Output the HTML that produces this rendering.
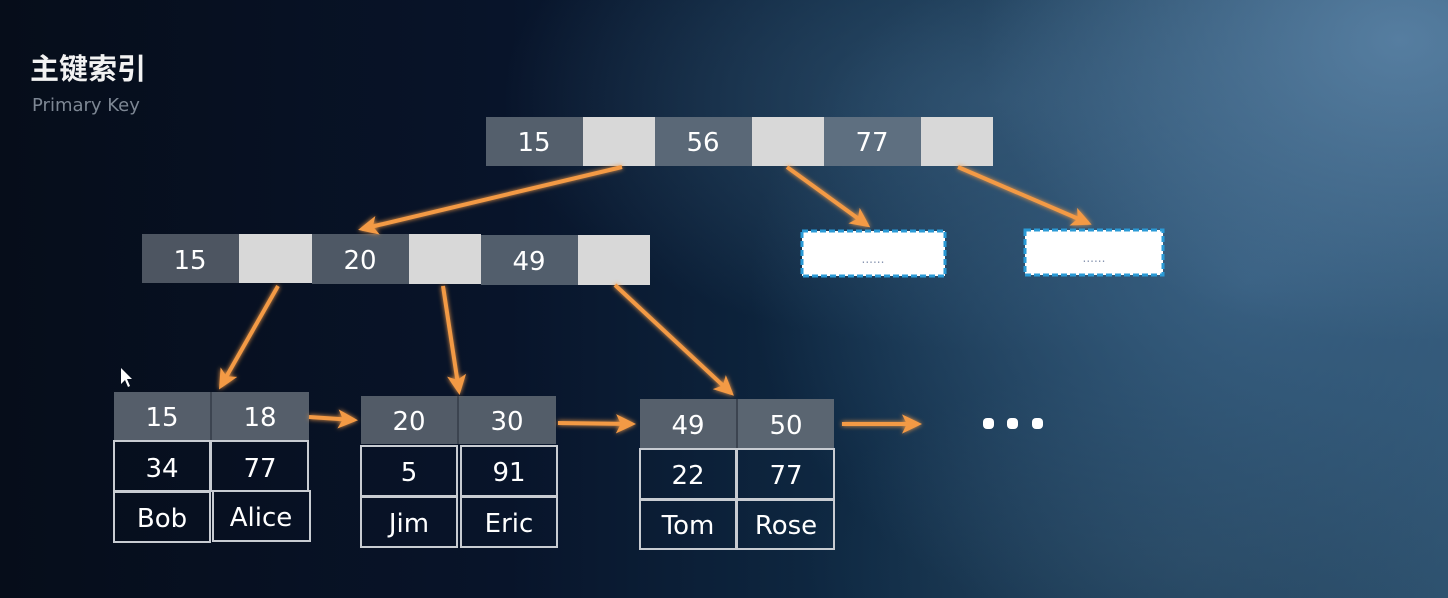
<!DOCTYPE html>
<html><head><meta charset="utf-8"><style>
html,body{margin:0;padding:0}
body{width:1448px;height:598px;overflow:hidden;position:relative;
background:
radial-gradient(ellipse 420px 300px at 1400px 40px, rgba(90,130,165,0.9), rgba(90,130,165,0) 100%),
radial-gradient(ellipse 500px 380px at 1250px 280px, rgba(60,100,135,0.85), rgba(60,100,135,0) 100%),
radial-gradient(ellipse 500px 250px at 1000px 100px, rgba(55,90,120,0.7), rgba(55,90,120,0) 100%),
radial-gradient(ellipse 400px 200px at 1200px 560px, rgba(45,75,100,0.6), rgba(45,75,100,0) 100%),
linear-gradient(90deg,#060d1a 0%,#08142a 35%,#0f2a44 60%,#1c3d58 80%,#2d5270 100%);
font-family:"Liberation Sans","Noto Sans CJK SC",sans-serif;}
svg{position:absolute;left:0;top:0}
</style></head><body>
<svg width="1448" height="598" viewBox="0 0 1448 598" font-family="'DejaVu Sans','Liberation Sans',sans-serif">
<defs>
<filter id="glow" x="-20%" y="-20%" width="140%" height="140%">
<feGaussianBlur stdDeviation="2.5" result="b"/>
<feMerge><feMergeNode in="b"/><feMergeNode in="SourceGraphic"/></feMerge>
</filter>
<marker id="ah" markerWidth="6" markerHeight="6" refX="4" refY="3" orient="auto" markerUnits="strokeWidth">
<path d="M0,0.6 L5,3 L0,5.4 L1.2,3 z" fill="#f39a45"/>
</marker>
</defs>
<text x="30" y="79" font-family="'Liberation Sans','Noto Sans CJK SC',sans-serif" font-size="29" font-weight="bold" fill="#f2f2f2">主键索引</text>
<text x="32" y="111" font-family="'DejaVu Sans',sans-serif" font-size="18" fill="#7d8794">Primary Key</text>

<!-- top node -->
<g>
<rect x="486" y="117" width="97" height="49" fill="#545f6c"/>
<rect x="583" y="117" width="72" height="49" fill="#d8d8d8"/>
<rect x="655" y="117" width="97" height="49" fill="#5a6877"/>
<rect x="752" y="117" width="72" height="49" fill="#d8d8d8"/>
<rect x="824" y="117" width="97" height="49" fill="#5e6f80"/>
<rect x="921" y="117" width="72" height="49" fill="#d8d8d8"/>
<g fill="#fff" font-size="26" text-anchor="middle">
<text x="534" y="151">15</text><text x="703" y="151">56</text><text x="872" y="151">77</text></g>
</g>
<!-- second node -->
<g>
<rect x="142" y="234" width="97" height="49" fill="#4d5561"/>
<rect x="239" y="234" width="73" height="49" fill="#d8d8d8"/>
<rect x="312" y="234" width="97" height="50" fill="#4e5865"/>
<rect x="409" y="234" width="72" height="50" fill="#d8d8d8"/>
<rect x="481" y="235" width="97" height="50" fill="#525e6c"/>
<rect x="578" y="235" width="72" height="50" fill="#d8d8d8"/>
<g fill="#fff" font-size="26" text-anchor="middle">
<text x="190" y="269">15</text><text x="360" y="269">20</text><text x="529" y="270">49</text></g>
</g>
<!-- dashed boxes -->
<rect x="802" y="231" width="143" height="45" fill="#fff" stroke="#2a9ad6" stroke-width="3" stroke-dasharray="6,3"/>
<rect x="1025" y="230" width="138" height="45" fill="#fff" stroke="#2a9ad6" stroke-width="3" stroke-dasharray="6,3"/>
<text x="873" y="263" font-size="12" fill="#8895b0" text-anchor="middle">......</text>
<text x="1094" y="262" font-size="12" fill="#8895b0" text-anchor="middle">......</text>

<!-- leaves -->
<g font-size="26" fill="#fff" text-anchor="middle">
<rect x="114" y="392" width="97" height="48" fill="#555e6a"/>
<rect x="211" y="392" width="98" height="48" fill="#555e6a"/>
<line x1="211" y1="392" x2="211" y2="440" stroke="#3c4450" stroke-width="2"/>
<g fill="none" stroke="#c8ccd2" stroke-width="2">
<rect x="114" y="441" width="96" height="50"/><rect x="211" y="441" width="97" height="50"/>
<rect x="114" y="492" width="96" height="50"/><rect x="213" y="491" width="97" height="50"/></g>
<text x="162" y="426">15</text><text x="260" y="426">18</text>
<text x="162" y="477">34</text><text x="260" y="477">77</text>
<text x="162" y="527">Bob</text><text x="261" y="526">Alice</text>

<rect x="361" y="396" width="97" height="48" fill="#525b67"/>
<rect x="458" y="396" width="98" height="48" fill="#535d69"/>
<line x1="458" y1="396" x2="458" y2="444" stroke="#3c4450" stroke-width="2"/>
<g fill="none" stroke="#c8ccd2" stroke-width="2">
<rect x="361" y="446" width="96" height="50"/><rect x="461" y="446" width="96" height="50"/>
<rect x="361" y="497" width="96" height="50"/><rect x="461" y="497" width="96" height="50"/></g>
<text x="409" y="430">20</text><text x="507" y="430">30</text>
<text x="409" y="481">5</text><text x="509" y="481">91</text>
<text x="409" y="532">Jim</text><text x="509" y="532">Eric</text>

<rect x="640" y="399" width="97" height="49" fill="#56606c"/>
<rect x="737" y="399" width="97" height="49" fill="#5a6571"/>
<line x1="737" y1="399" x2="737" y2="448" stroke="#3c4450" stroke-width="2"/>
<g fill="none" stroke="#c8ccd2" stroke-width="2">
<rect x="640" y="449" width="96" height="50"/><rect x="737" y="449" width="97" height="50"/>
<rect x="640" y="500" width="96" height="49"/><rect x="737" y="500" width="97" height="49"/></g>
<text x="688" y="434">49</text><text x="786" y="434">50</text>
<text x="688" y="484">22</text><text x="786" y="484">77</text>
<text x="688" y="534">Tom</text><text x="786" y="534">Rose</text>
</g>

<!-- arrows -->
<g stroke="#f39a45" stroke-width="4" fill="none" marker-end="url(#ah)" filter="url(#glow)">
<line x1="622" y1="167" x2="362" y2="229"/>
<line x1="787" y1="167" x2="867" y2="225"/>
<line x1="958" y1="167" x2="1088" y2="223"/>
<line x1="278" y1="286" x2="221" y2="386"/>
<line x1="443" y1="286" x2="459" y2="391"/>
<line x1="615" y1="285" x2="731" y2="393"/>
<line x1="309" y1="417" x2="354" y2="420"/>
<line x1="558" y1="423" x2="632" y2="424"/>
<line x1="842" y1="424" x2="918" y2="424"/>
</g>
<g fill="#fff">
<rect x="983" y="418" width="11" height="11" rx="4"/>
<rect x="1007" y="418" width="11" height="11" rx="4"/>
<rect x="1032" y="418" width="11" height="11" rx="4"/>
</g>
<path d="M121,368 L121,384 L125,380 L128,387 L130,386 L127,379 L132,379 Z" fill="#fff"/>
</svg>
</body></html>
